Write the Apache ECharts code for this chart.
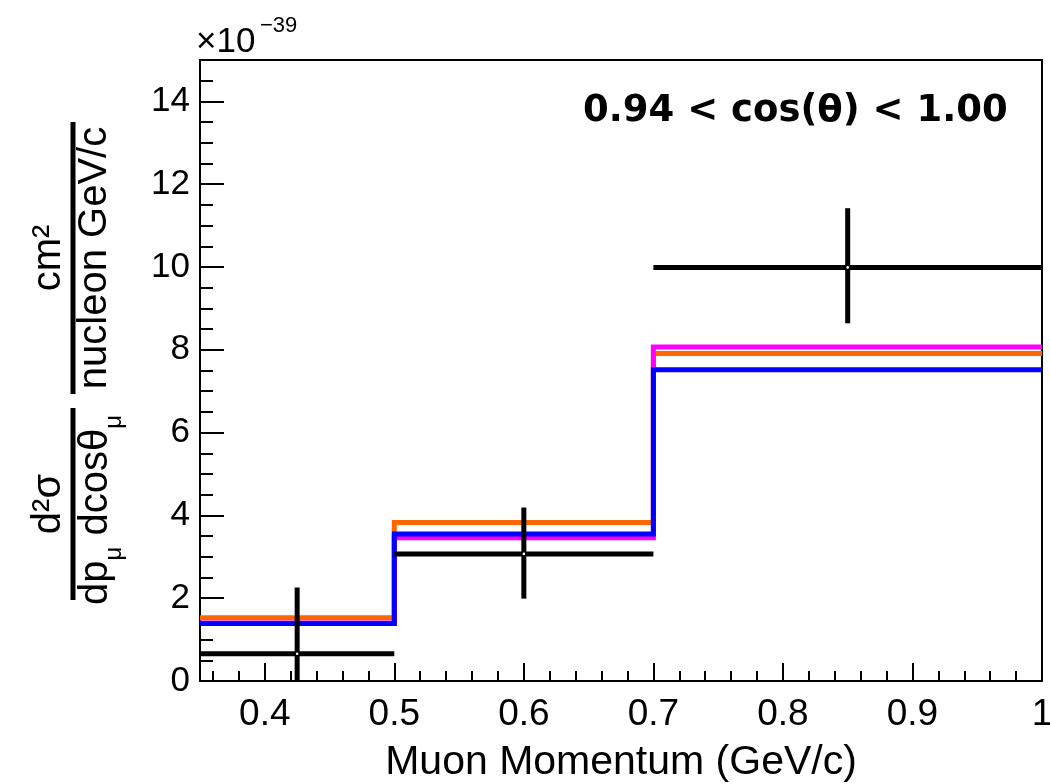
<!DOCTYPE html>
<html>
<head>
<meta charset="utf-8">
<script src="https://cdn.jsdelivr.net/npm/echarts@6/dist/echarts.min.js"></script>
<style>
html,body{margin:0;padding:0;background:#fff;}
#chart{width:1050px;height:784px;}
</style>
</head>
<body>
<div id="chart"></div>
<script>
// ---- data ----
var binEdges      = [0.35, 0.5, 0.7, 1.0];
var dataCenters   = [0.425, 0.6, 0.85];
var dataValues    = [0.66, 3.07, 9.99];
var dataErrUp     = [1.60, 1.12, 1.43];
var dataErrDown   = [1.60, 1.08, 1.35];
var orangeValues  = [1.53, 3.83, 7.91];
var magentaValues = [1.40, 3.46, 8.07];
var blueValues    = [1.39, 3.55, 7.52];
// ---- tick labels ----
var xLabelValues  = [0.4, 0.5, 0.6, 0.7, 0.8, 0.9, 1.0];
var yLabelValues  = [0, 2, 4, 6, 8, 10, 12, 14];
var minorXTicks = [];
for (var k = 36; k <= 98; k += 2) { if (k % 10 !== 0) minorXTicks.push(k / 100); }
var minorYTicks = [];
for (var h = 1; h <= 29; h++) { if (h % 4 !== 0) minorYTicks.push(h / 2); }

var titleText = '0.94 < cos(\u03b8) < 1.00';
var xName = 'Muon Momentum (GeV/c)';

function stepData(vals) {
  var pts = [];
  for (var i = 0; i < vals.length; i++) pts.push([binEdges[i], vals[i]]);
  pts.push([binEdges[binEdges.length - 1], vals[vals.length - 1]]);
  return pts;
}
var errData = [];
for (var i = 0; i < dataCenters.length; i++) {
  errData.push([dataCenters[i], dataValues[i], binEdges[i], binEdges[i + 1], dataErrUp[i], dataErrDown[i]]);
}

var FONT = '"Liberation Sans", Arial, Helvetica, sans-serif';
var cnv = document.createElement('canvas').getContext('2d');
function tw(text, size) { cnv.font = size + 'px ' + FONT; return cnv.measureText(text).width; }

var chart = echarts.init(document.getElementById('chart'), null, {renderer: 'canvas'});

function stepSeries(name, vals, color) {
  return {
    name: name, type: 'line', step: 'end', data: stepData(vals),
    xAxisIndex: 0, yAxisIndex: 0, symbol: 'none', silent: true,
    lineStyle: {color: color, width: 5, cap: 'butt', join: 'miter'},
    animation: false, clip: true
  };
}

// y-axis title built from pieces (rotated group)
var TS = 40, SUB = 24;
var denParts = [['dp', TS], ['\u03bc', SUB], [' dcos\u03b8', TS], ['\u03bc', SUB]];
var denW = 0; denParts.forEach(function (p) { denW += tw(p[0], p[1]); });
var denChildren = [];
var cx = -denW / 2 - 6;
denParts.forEach(function (p) {
  var isSub = p[1] === SUB;
  denChildren.push({
    type: 'text', x: cx, y: isSub ? 41 : 23,
    style: {text: p[0], font: p[1] + 'px ' + FONT, fill: '#000', align: 'left', verticalAlign: 'middle'}
  });
  cx += tw(p[0], p[1]);
});

var option = {
  animation: false,
  backgroundColor: '#fff',
  grid: {left: 200, right: 8, top: 60, bottom: 103, outerBoundsMode: 'none', containLabel: false,
    show: true, borderColor: '#000', borderWidth: 2, backgroundColor: 'transparent'},
  title: {
    text: titleText, left: 578, top: 88,
    textStyle: {fontFamily: '"DejaVu Sans"', fontWeight: 'bold', fontSize: 37, color: '#000'}
  },
  xAxis: [{
    type: 'value', min: 0.35, max: 1.0, position: 'bottom',
    axisLine: {show: true, onZero: false, lineStyle: {color: '#000', width: 2}},
    axisTick: {show: true, inside: true, length: 18, customValues: xLabelValues, lineStyle: {color: '#000', width: 2}},
    axisLabel: {show: true, customValues: xLabelValues, margin: 15, fontFamily: FONT, fontSize: 37, color: '#000',
      formatter: function (v) { return Math.abs(v - 1) < 1e-9 ? '1' : v.toFixed(1); }},
    splitLine: {show: false},
    name: xName, nameLocation: 'middle', nameGap: 61,
    nameTextStyle: {fontFamily: FONT, fontSize: 41, color: '#000'}
  }, {
    type: 'value', min: 0.35, max: 1.0, position: 'bottom', offset: 0,
    axisLine: {show: false},
    axisTick: {show: true, inside: true, length: 10, customValues: minorXTicks, lineStyle: {color: '#000', width: 2}},
    axisLabel: {show: false, customValues: minorXTicks},
    splitLine: {show: false}
  }],
  yAxis: [{
    type: 'value', min: 0, max: 15, position: 'left',
    axisLine: {show: true, onZero: false, lineStyle: {color: '#000', width: 2}},
    axisTick: {show: true, inside: true, length: 24, customValues: yLabelValues, lineStyle: {color: '#000', width: 2}},
    axisLabel: {show: true, customValues: yLabelValues, margin: 10, fontFamily: FONT, fontSize: 35, color: '#000'},
    splitLine: {show: false}
  }, {
    type: 'value', min: 0, max: 15, position: 'left', offset: 0,
    axisLine: {show: false},
    axisTick: {show: true, inside: true, length: 13, customValues: minorYTicks, lineStyle: {color: '#000', width: 2}},
    axisLabel: {show: false, customValues: minorYTicks},
    splitLine: {show: false}
  }],
  series: [
    stepSeries('orange', orangeValues, '#ff6600'),
    stepSeries('magenta', magentaValues, '#ff00ff'),
    stepSeries('blue', blueValues, '#0000ff'),
    {
      name: 'data', type: 'custom', xAxisIndex: 0, yAxisIndex: 0, clip: true, silent: true,
      data: errData, z: 5,
      renderItem: function (params, api) {
        var c = api.coord([api.value(0), api.value(1)]);
        var lo = api.coord([api.value(2), api.value(1)]);
        var hi = api.coord([api.value(3), api.value(1)]);
        var up = api.coord([api.value(0), api.value(1) + api.value(4)]);
        var dn = api.coord([api.value(0), api.value(1) - api.value(5)]);
        var st = {stroke: '#000', lineWidth: 5, lineCap: 'butt'};
        return {
          type: 'group',
          children: [
            {type: 'line', shape: {x1: lo[0], y1: lo[1], x2: hi[0], y2: hi[1]}, style: st},
            {type: 'line', shape: {x1: up[0], y1: up[1], x2: dn[0], y2: dn[1]}, style: st},
            {type: 'circle', shape: {cx: c[0], cy: c[1], r: 1.3}, style: {fill: '#fff'}}
          ]
        };
      }
    }
  ],
  graphic: [
    {type: 'text', x: 196, y: 42, style: {text: '\u00d710', font: '35px ' + FONT, fill: '#000', align: 'left', verticalAlign: 'middle'}},
    {type: 'text', x: 260, y: 26, style: {text: '\u221239', font: '22px ' + FONT, fill: '#000', align: 'left', verticalAlign: 'middle'}},
    {
      type: 'group', x: 73, y: 258, rotation: Math.PI / 2,
      children: [
        {type: 'line', shape: {x1: -136, y1: 0, x2: 136, y2: 0}, style: {stroke: '#000', lineWidth: 5}},
        {type: 'text', x: 0, y: -24, style: {text: 'cm\u00b2', font: TS + 'px ' + FONT, fill: '#000', align: 'center', verticalAlign: 'middle'}},
        {type: 'text', x: 0, y: 22, style: {text: 'nucleon GeV/c', font: TS + 'px ' + FONT, fill: '#000', align: 'center', verticalAlign: 'middle'}}
      ]
    },
    {
      type: 'group', x: 73, y: 504, rotation: Math.PI / 2,
      children: [
        {type: 'line', shape: {x1: -96, y1: 0, x2: 96, y2: 0}, style: {stroke: '#000', lineWidth: 5}},
        {type: 'text', x: 0, y: -24, style: {text: 'd\u00b2\u03c3', font: TS + 'px ' + FONT, fill: '#000', align: 'center', verticalAlign: 'middle'}}
      ].concat(denChildren)
    }
  ]
};
chart.setOption(option);
</script>
</body>
</html>
